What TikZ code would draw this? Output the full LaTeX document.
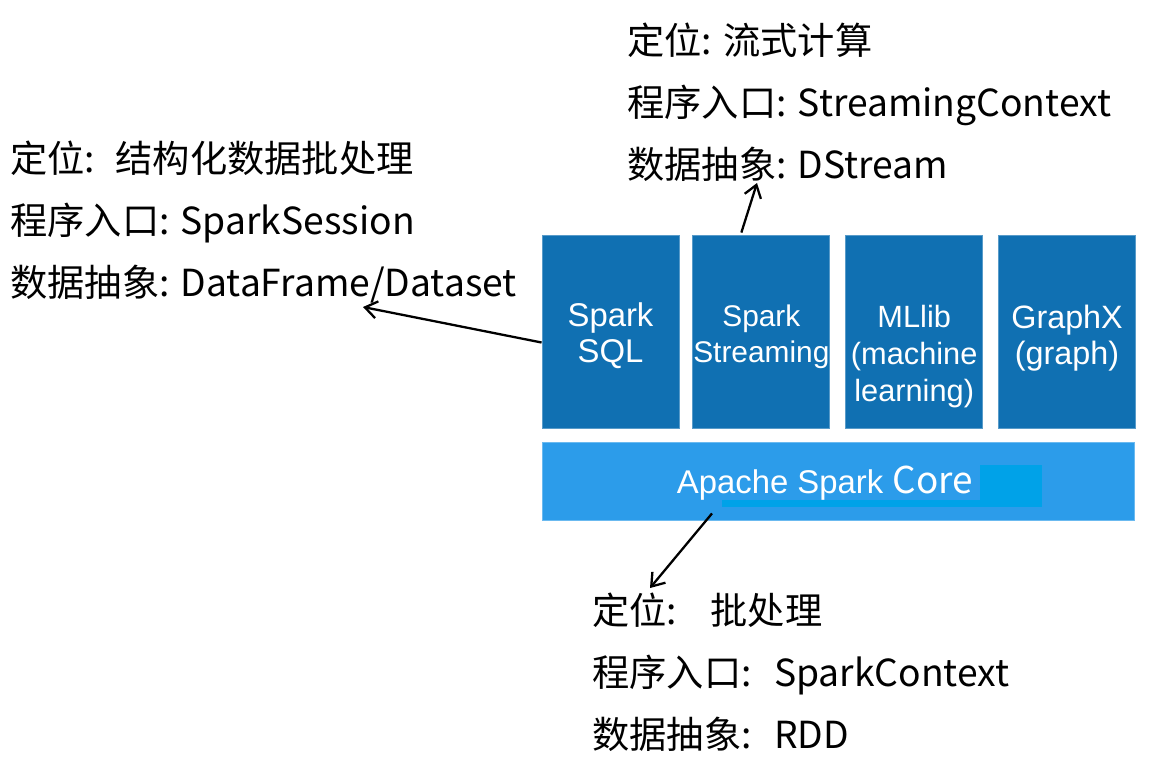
\documentclass[tikz,border=0pt]{standalone}
\usepackage{fontspec}
\setmainfont{Noto Sans CJK SC}
\newfontfamily\arialfont{Liberation Sans}
\usetikzlibrary{arrows.meta, positioning, calc}
\definecolor{cdark}{HTML}{1070B2}
\definecolor{clight}{HTML}{2C9CEA}
\definecolor{cpatch}{HTML}{00A2E8}
\tikzset{
  every picture/.style={x=0.02cm, y=-0.02cm},
  module/.style={draw=#1!70!white, fill=#1, line width=0.5pt, minimum width=2.74cm, minimum height=3.86cm, inner sep=0pt},
  module/.default=cdark,
  modtext/.style={text=white, font=\arialfont\fontsize{#1}{20.6}\selectfont, align=center, anchor=north, inner sep=0pt},
  modtext/.default=18.7,
  info/.style={font=\fontsize{21.2}{25}\selectfont, anchor=base west, inner sep=0pt},
  arrow/.style={-{Straight Barb[length=2.4mm, width=3.4mm]}, line width=1.3pt},
}

\begin{document}
\begin{tikzpicture}
  \useasboundingbox[fill=white] (0,0) rectangle (1175,775);
  % the four modules on top of the core
  \node[module] (sql) at (610.5,331.5) {};
  \node[module, right=0.26cm of sql] (stream) {};
  \node[module, right=0.3cm of stream] (mllib) {};
  \node[module, right=0.3cm of mllib] (graphx) {};
  \node[module=clight, minimum width=11.84cm, minimum height=1.56cm] (core) at (838,481) {};
  \fill[cpatch] (722,500) rectangle (1042,507);
  \fill[cpatch] (980,465) rectangle (1042,507);
  \node[modtext] (sqltxt) at ($(sql.north)+(0,68)$) {Spark\\SQL};
  \node[modtext=17] (streamtxt) at ($(stream.north)+(0,70)$) {Spark\\Streaming};
  \node[modtext=17.5, font=\arialfont\fontsize{17.5}{21}\selectfont] (mllibtxt) at ($(mllib.north)+(0,70)$) {MLlib\\(machine\\learning)};
  \node[modtext=18.4] (graphxtxt) at ($(graphx.north)+(0,70)$) {GraphX\\(graph)};
  \node[modtext, anchor=base west] (coretxt) at ($(core.west)+(135,12)$) {Apache Spark {\normalfont\fontsize{21}{25}\selectfont Core}};
  % notes
  \foreach \t [count=\i from 0] in {定位:\hspace{0.55em}结构化数据批处理, 程序入口: SparkSession, 数据抽象: DataFrame/Dataset}
    \node[info] (sqlinfo\i) at (10,172+62*\i) {\t};
  \foreach \t [count=\i from 0] in {定位: 流式计算, 程序入口: StreamingContext, 数据抽象: DStream}
    \node[info] (streaminfo\i) at (627,54+62*\i) {\t};
  \foreach \t [count=\i from 0] in {定位:\hspace{0.9em}批处理, 程序入口:\hspace{0.6em}SparkContext, 数据抽象:\hspace{0.6em}RDD}
    \node[info] (coreinfo\i) at (592,624+62*\i) {\t};
  % arrows
  \coordinate (sqlend) at (363,307);
  \coordinate (streamend) at (757,183);
  \coordinate (coreend) at (650,588);
  \draw[arrow] ($(sql.west)+(0,11)$) -- (sqlend);
  \draw[arrow] ($(stream.north)+(-20,-2)$) -- (streamend);
  \draw[arrow] ($(core.south)+(-126,-7)$) -- (coreend);
\end{tikzpicture}
\end{document}
